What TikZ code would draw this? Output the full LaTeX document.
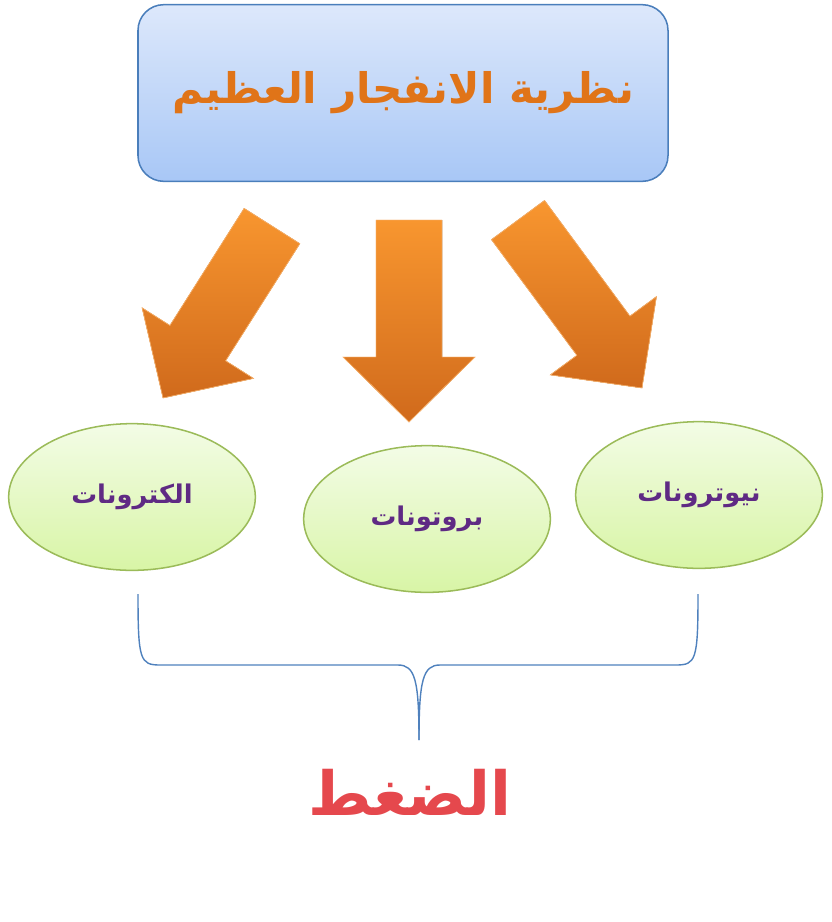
\documentclass[tikz,border=0pt]{standalone}
\usepackage{fontspec}
\newfontfamily\arabicfont[Script=Arabic]{DejaVu Sans}
\TeXXeTstate=1
\usetikzlibrary{calc,shapes.geometric}
\definecolor{boxtop}{HTML}{DDE8FB}
\definecolor{boxbot}{HTML}{A8C7F6}
\definecolor{boxline}{HTML}{4A7EBB}
\definecolor{arrtop}{HTML}{F8962F}
\definecolor{arrbot}{HTML}{D06A1C}
\definecolor{arrline}{HTML}{F7B06A}
\definecolor{elltop}{HTML}{F3FCE6}
\definecolor{ellbot}{HTML}{D8F5A6}
\definecolor{ellline}{HTML}{9BBB59}
\definecolor{purpletext}{HTML}{5F2A84}
\definecolor{titleorange}{HTML}{E07418}
\definecolor{bracecol}{HTML}{4F81BD}
\definecolor{redtext}{HTML}{E5484D}

\tikzset{
  titlebox/.style={draw=boxline, line width=1.3pt, rounded corners=22, top color=boxtop, bottom color=boxbot,
    minimum width=15.9cm, minimum height=5.3cm},
  particle/.style={ellipse, draw=ellline, line width=1.3pt, top color=elltop, bottom color=ellbot,
    minimum width=7.4cm, minimum height=4.4cm, inner sep=0pt},
  blockarrow/.style={draw=arrline, thin, top color=arrtop, bottom color=arrbot},
  particletext/.style={font=\fontsize{22}{26}\selectfont\arabicfont\bfseries, text=purpletext},
}

% block arrow from tail to tip
\newcommand{\bigarrow}[2]{%
  \coordinate (neck) at ($(#2)!1.95cm!(#1)$);
  \fill[blockarrow]
    ($(#1)!0.99cm!90:(#2)$) -- ($(neck)!0.99cm!-90:(#1)$) -- ($(neck)!1.98cm!-90:(#1)$)
    -- (#2) -- ($(neck)!1.98cm!90:(#1)$) -- ($(neck)!0.99cm!90:(#1)$)
    -- ($(#1)!0.99cm!-90:(#2)$) -- cycle;
  \draw[draw=arrline, thin]
    ($(#1)!0.99cm!90:(#2)$) -- ($(neck)!0.99cm!-90:(#1)$) -- ($(neck)!1.98cm!-90:(#1)$)
    -- (#2) -- ($(neck)!1.98cm!90:(#1)$) -- ($(neck)!0.99cm!90:(#1)$)
    -- ($(#1)!0.99cm!-90:(#2)$) -- cycle;
}

\begin{document}
\begin{tikzpicture}[x=0.03cm, y=-0.03cm]
\useasboundingbox (0,0) rectangle (831,922);

% Title
\node[titlebox] (theory) at (403,93) {\fontsize{36}{42}\selectfont\arabicfont\bfseries\color{titleorange}\beginR نظرية الانفجار العظيم\endR};

% Arrows
\coordinate (ltail) at (272,226);
\coordinate (ltip) at (163,398);
\coordinate (mtail) at (409,220);
\coordinate (mtip) at (409,422);
\coordinate (rtail) at (518,220);
\coordinate (rtip) at (642,388);
\bigarrow{ltail}{ltip}
\bigarrow{mtail}{mtip}
\bigarrow{rtail}{rtip}

% Particles
\node[particle, particletext] (electrons) at (132,497) {\beginR الكترونات\endR};
\node[particle, particletext] (protons) at (427,519) {\beginR بروتونات\endR};
\node[particle, particletext] (neutrons) at (699,495) {\beginR نيوترونات\endR};

% Brace
\coordinate (bl) at (138,594);
\coordinate (br) at (698,594);
\coordinate (bm) at (419,740);
\draw[bracecol, line width=1.2pt] (bl) .. controls (138,660) and (140,665) .. (160,665) -- (398,665)
  .. controls (415,665) and (419,680) .. (bm);
\draw[bracecol, line width=1.2pt] (br) .. controls (698,660) and (696,665) .. (676,665) -- (440,665)
  .. controls (423,665) and (419,680) .. (bm);

% Pressure
\node (pressure) at (410,792) {\fontsize{52}{60}\selectfont\arabicfont\bfseries\color{redtext}\beginR الضغط\endR};
\end{tikzpicture}
\end{document}
